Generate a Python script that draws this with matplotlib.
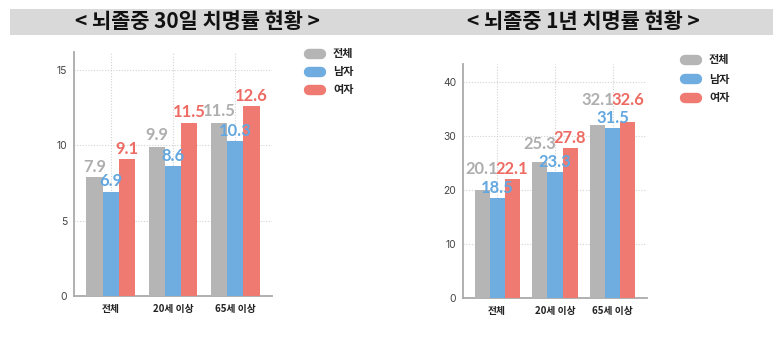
import matplotlib
matplotlib.use("Agg")
import matplotlib.pyplot as plt
import numpy as np
from matplotlib.lines import Line2D
from matplotlib.patches import Rectangle
from matplotlib import font_manager as fm
from matplotlib.textpath import TextPath

plt.rcParams['font.family'] = ['Noto Sans CJK KR', 'DejaVu Sans']

categories = ['전체', '20세 이상', '65세 이상']
series_names = ['전체', '남자', '여자']
colors = ['#b5b5b5', '#6fade0', '#ee7a72']
label_colors = ['#aeaeae', '#62a7e0', '#ee6b63']

day30_total = [7.9, 9.9, 11.5]
day30_male = [6.9, 8.6, 10.3]
day30_female = [9.1, 11.5, 12.6]

year1_total = [20.1, 25.3, 32.1]
year1_male = [18.5, 23.3, 31.5]
year1_female = [22.1, 27.8, 32.6]

title_30 = '< 뇌졸중 30일 치명률 현황 >'
title_1y = '< 뇌졸중 1년 치명률 현황 >'
yticks_30 = [0, 5, 10, 15]
yticks_1y = [0, 10, 20, 30, 40]

ALLOWED = ('Liberation Sans Narrow', 'Roboto', 'Noto Sans', 'Open Sans', 'Lato',
           'Inter', 'Liberation Sans', 'DejaVu Sans')


def weight_num(w):
    if isinstance(w, int):
        return w
    return {'bold': 700, 'normal': 400, 'regular': 400, 'medium': 500,
            'semibold': 600, 'light': 300}.get(str(w), 400)


def narrowest(bold):
    best, best_ratio = None, 1e9
    for f in fm.fontManager.ttflist:
        if f.name not in ALLOWED:
            continue
        if f.style != 'normal' or 'Italic' in f.fname or 'Oblique' in f.fname:
            continue
        w = weight_num(f.weight)
        if bold and not (650 <= w <= 800):
            continue
        if not bold and not (380 <= w <= 450):
            continue
        try:
            fp = fm.FontProperties(fname=f.fname, size=10)
            ext = TextPath((0, 0), '12.6', prop=fp).get_extents()
            ext2 = TextPath((0, 0), '1', prop=fp).get_extents()
            ratio = ext.width / ext2.height
        except Exception:
            continue
        if ratio < best_ratio:
            best, best_ratio = f.fname, ratio
    return best


def sized(path, fallback, cap_px, max_w_px, sample, bold):
    if path is None:
        return fm.FontProperties(family=fallback, weight='bold' if bold else 'normal', size=10)
    fp = fm.FontProperties(fname=path, size=10)
    h = TextPath((0, 0), '1', prop=fp).get_extents().height
    wd = TextPath((0, 0), sample, prop=fp).get_extents().width
    s_h = 10 * cap_px / (h * 100 / 72)
    s_w = 10 * max_w_px / (wd * 100 / 72)
    fp.set_size(min(s_h, s_w))
    return fp


num_bold = sized(narrowest(True), ['Roboto', 'DejaVu Sans'], 12, 31, '12.6', True)
num_reg = sized(narrowest(False), ['Roboto', 'DejaVu Sans'], 7.5, 10, '15', False)

W, H = 782, 341
fig = plt.figure(figsize=(W / 100, H / 100), dpi=100)


def fx(px):
    return px / W


def fy(py):
    return 1 - py / H


# title band
fig.patches.append(Rectangle((fx(10), fy(35)), fx(763), 26 / H, transform=fig.transFigure,
                             facecolor='#d9d9d9', edgecolor='none', zorder=0))
fig.text(fx(197), fy(22), title_30, ha='center', va='center', fontsize=15, fontweight='bold', color='#111111')
fig.text(fx(583), fy(22), title_1y, ha='center', va='center', fontsize=15, fontweight='bold', color='#111111')


def draw(rect, series, yticks, ymax, legend_x, legend_y0, legend_dy, lift=None):
    l, t, r, b = rect
    ax = fig.add_axes([fx(l), fy(b), fx(r - l), (b - t) / H])
    x = np.arange(len(categories))
    w = 0.26
    for i, (vals, c, lc) in enumerate(zip(series, colors, label_colors)):
        xs = x + (i - 1) * w
        ax.bar(xs, vals, width=w, color=c, zorder=3, linewidth=0)
        for j, (xi, v) in enumerate(zip(xs, vals)):
            extra = lift[i][j] if lift else 0
            ax.annotate(f'{v:.1f}', (xi, v), xytext=(0, (5 + extra) * 0.72), textcoords='offset points',
                        ha='center', va='baseline', fontproperties=num_bold,
                        color=lc, zorder=4)
    ax.set_xlim(-0.59, 2.59)
    ax.set_ylim(0, ymax)
    ax.set_yticks(yticks)
    ax.set_yticklabels([str(v) for v in yticks], fontproperties=num_reg, color='#444444')
    ax.set_xticks(x)
    ax.set_xticklabels(categories, fontsize=7, fontweight='bold', color='#222222')
    ax.tick_params(axis='both', length=0)
    ax.tick_params(axis='y', pad=5)
    ax.tick_params(axis='x', pad=6)
    for s in ['top', 'right']:
        ax.spines[s].set_visible(False)
    for s in ['left', 'bottom']:
        ax.spines[s].set_color('#aaaaaa')
        ax.spines[s].set_linewidth(1.3)
    for v in yticks[1:]:
        ax.axhline(v, color='#d2d2d2', lw=0.8, ls=(0, (1, 1.5)), zorder=1)
    for xi in x:
        ax.axvline(xi, color='#d2d2d2', lw=0.8, ls=(0, (1, 1.5)), zorder=1)
    # legend
    for i, (name, c) in enumerate(zip(series_names, colors)):
        yy = legend_y0 + i * legend_dy
        fig.add_artist(Line2D([fx(legend_x + 5), fx(legend_x + 17)], [fy(yy), fy(yy)],
                              transform=fig.transFigure, color=c, lw=7.5, solid_capstyle='round'))
        fig.text(fx(legend_x + 29), fy(yy), name, ha='left', va='center', fontsize=8,
                 fontweight='bold', color='#222222')
    return ax


# extra label lift in pixels (per series, per group) used in the 1-year panel to avoid collisions
lift_1y = [[11, 8, 15], [0, 0, 0], [0, 0, 12]]
lift_30 = [[0, 2, 2], [1, 0, 0], [0, 1, 0]]

draw((74, 52, 272, 296), [day30_total, day30_male, day30_female], yticks_30, 16.2, 304, 54, 18, lift_30)
draw((463, 64, 647, 298), [year1_total, year1_male, year1_female], yticks_1y, 43.4, 680, 60, 19, lift_1y)

fig.savefig('out.png', dpi=100)
